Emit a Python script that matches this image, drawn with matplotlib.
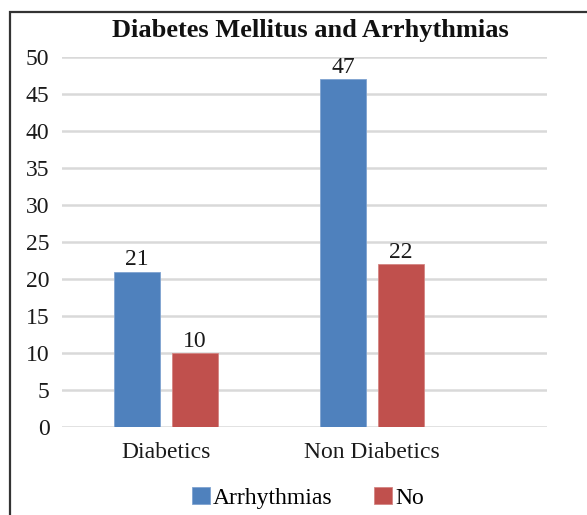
import matplotlib
matplotlib.use("Agg")
import matplotlib.pyplot as plt
from matplotlib.patches import Rectangle
import numpy as np

categories = ["Diabetics", "Non Diabetics"]
series_names = ["Arrhythmias", "No"]
arrhythmias = [21, 47]
no_arrhythmias = [10, 22]
y_ticks = [0, 5, 10, 15, 20, 25, 30, 35, 40, 45, 50]

colors = ["#4F81BD", "#C0504D"]
serif = ["Liberation Serif", "DejaVu Serif"]
text_color = "#1a1a1a"

fig = plt.figure(figsize=(5.87, 5.15), dpi=100)
ax = fig.add_axes([62 / 587, 1 - 427 / 515, (547 - 62) / 587, (427 - 57) / 515])

x = np.arange(len(categories))
width = 0.223
offset = 0.141
b1 = ax.bar(x - offset, arrhythmias, width, color=colors[0], edgecolor="#7fa3d0",
            linewidth=0.6, label=series_names[0], zorder=3)
b2 = ax.bar(x + offset, no_arrhythmias, width, color=colors[1], edgecolor="#d48583",
            linewidth=0.6, label=series_names[1], zorder=3)

for bars, vals in ((b1, arrhythmias), (b2, no_arrhythmias)):
    for rect, v in zip(bars, vals):
        ax.text(rect.get_x() + rect.get_width() / 2, v + 0.2, str(v),
                ha="center", va="bottom", fontsize=17, family=serif, color=text_color)

ax.set_xlim(-0.505, 1.85)
ax.set_ylim(0, 50)
ax.set_yticks(y_ticks)
ax.set_yticklabels([str(t) for t in y_ticks], family=serif, fontsize=17, color=text_color)
ax.set_xticks(x)
ax.set_xticklabels(categories, family=serif, fontsize=17, color=text_color)
ax.tick_params(axis="y", length=0, pad=9)
ax.tick_params(axis="x", length=0, pad=11)
ax.yaxis.grid(True, color="#d9d9d9", linewidth=1.8, zorder=0)
ax.set_axisbelow(True)
for s in ax.spines.values():
    s.set_visible(False)

fig.text(310 / 587, 1 - 30 / 515, "Diabetes Mellitus and Arrhythmias",
         ha="center", va="center", fontsize=19, fontweight="bold", family=serif,
         color="#111111")

leg = fig.legend(handles=[b1, b2], labels=series_names, loc="center",
                 bbox_to_anchor=(308 / 587, 1 - 498 / 515), ncol=2, frameon=False,
                 prop={"family": serif, "size": 17}, handlelength=0.75, handleheight=0.75,
                 columnspacing=1.75, handletextpad=0.15)

fig.patches.append(Rectangle((10 / 587, -0.05), 1.1, 1 - 12 / 515 + 0.05,
                             transform=fig.transFigure, fill=False,
                             edgecolor="#333333", linewidth=1.6))

fig.savefig("out.png", dpi=100, facecolor="white")
